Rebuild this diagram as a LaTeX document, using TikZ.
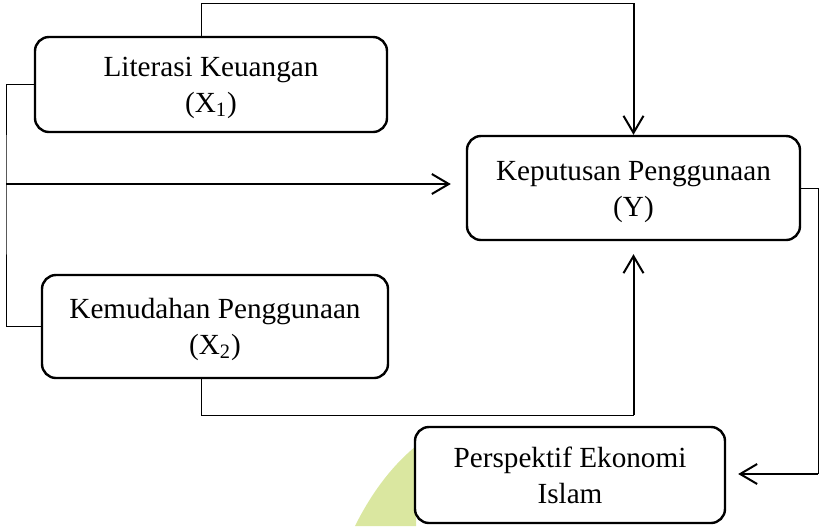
\documentclass[tikz,border=0pt]{standalone}
\usepackage{fontspec}
\setmainfont{Liberation Serif}
\usetikzlibrary{arrows.meta}
\definecolor{wmgreen}{RGB}{218,231,160}

\begin{document}
\begin{tikzpicture}[x=0.5pt,y=-0.5pt,
  varbox/.style={draw,line width=1.2pt,rounded corners=7pt,fill=white,align=center,inner sep=0pt,
    text height=31pt,text depth=3pt,font=\fontsize{14.6}{17.8}\selectfont},
  thinline/.style={line width=0.5pt},
  arrowline/.style={line width=1pt,-{Straight Barb[length=8.5pt,width=10pt]}}]
\useasboundingbox (0,0) rectangle (821,526);
\fill[wmgreen] (355,526) .. controls (372,492) and (392,466) .. (416,446) -- (416,526) -- cycle;
\node[varbox,minimum width=176pt,minimum height=47.5pt] (lit) at (211,84.5) {Literasi Keuangan\\(X\textsubscript{1})};
\node[varbox,minimum width=166.5pt,minimum height=52pt] (kep) at (633.5,188) {Keputusan Penggunaan\\(Y)};
\node[varbox,minimum width=173pt,minimum height=51.5pt] (kem) at (215,326.5) {Kemudahan Penggunaan\\(X\textsubscript{2})};
\node[varbox,minimum width=155pt,minimum height=48pt] (per) at (570,475) {Perspektif Ekonomi\\Islam};
\coordinate (littop) at (201,3);
\coordinate (bus) at (6,184);
\coordinate (kemlow) at (201,415);
\coordinate (rightside) at (818,474);
\draw[thinline] (lit.north -| littop) -- (littop) -- (littop -| kep.north);
\draw[arrowline] (littop -| kep.north) -- (kep.north);
\draw[thinline] (lit.west) -| (bus) |- (kem.west);
\draw[arrowline,shorten >=7.5pt] (bus) -- (bus -| kep.west);
\draw[thinline] (kem.south -| kemlow) -- (kemlow) -- (kemlow -| kep.south);
\draw[arrowline,shorten >=6.5pt] (kemlow -| kep.south) -- (kep.south);
\draw[thinline] (kep.east) -| (rightside);
\draw[arrowline,shorten >=6pt] (rightside) -- (rightside -| per.east);
\end{tikzpicture}
\end{document}
